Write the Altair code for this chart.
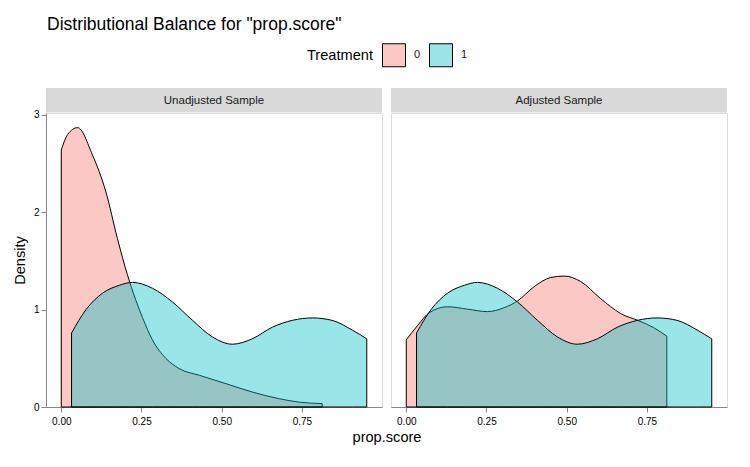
import altair as alt
import pandas as pd

FONT = "Liberation Sans"

# Treatment 0, unadjusted sample (density curve)
t0_unadj_x = [0.0, 0.02, 0.051, 0.097, 0.139, 0.175, 0.206, 0.232, 0.253, 0.284, 0.326, 0.367, 0.43, 0.513, 0.595, 0.678, 0.741, 0.813]
t0_unadj_y = [2.64, 2.80, 2.87, 2.59, 2.21, 1.73, 1.36, 1.10, 0.92, 0.69, 0.50, 0.395, 0.326, 0.24, 0.154, 0.086, 0.05, 0.035]

# Treatment 1 (same in both samples)
t1_x = [0.032, 0.077, 0.129, 0.181, 0.222, 0.284, 0.346, 0.409, 0.471, 0.533, 0.595, 0.658, 0.72, 0.782, 0.844, 0.907, 0.952]
t1_y = [0.76, 1.00, 1.17, 1.25, 1.28, 1.22, 1.08, 0.89, 0.72, 0.645, 0.70, 0.82, 0.89, 0.915, 0.89, 0.79, 0.70]

# Treatment 0, adjusted sample
t0_adj_x = [0.0, 0.036, 0.072, 0.129, 0.191, 0.253, 0.305, 0.347, 0.398, 0.45, 0.492, 0.543, 0.605, 0.668, 0.725, 0.771, 0.812]
t0_adj_y = [0.69, 0.84, 0.97, 1.03, 1.005, 0.98, 1.02, 1.09, 1.235, 1.33, 1.345, 1.29, 1.115, 0.96, 0.885, 0.815, 0.727]

samples = ["Unadjusted Sample", "Adjusted Sample"]
treatments = ["0", "1"]
colors = ["#F8766D", "#00BFC4"]
legend_colors = ["#FCC8C5", "#99E5E7"]  # the same colours at 40% over white
x_ticks = [0.0, 0.25, 0.5, 0.75]
y_ticks = [0, 1, 2, 3]


def frame(xs0, ys0, xs1, ys1):
    rows = [{"x": a, "density": b, "Treatment": "0"} for a, b in zip(xs0, ys0)]
    rows += [{"x": a, "density": b, "Treatment": "1"} for a, b in zip(xs1, ys1)]
    return pd.DataFrame(rows)


W, H = 336, 294

legend = alt.Legend(
    orient="none", legendX=261, legendY=-70, direction="horizontal",
    titleOrient="left", symbolType="square", symbolSize=529,
    symbolStrokeColor="black", symbolStrokeWidth=1, symbolOpacity=1,
    labelFontSize=11, labelColor="#1A1A1A", labelFont=FONT, labelOffset=8,
    titleFontSize=14.6, titleFontWeight="normal", titleColor="black", titleFont=FONT,
    titlePadding=9, columnPadding=6, title="Treatment",
)


def panel(df, label, first):
    if first:
        xaxis = alt.Axis(
            values=x_ticks, format=".2f", title="prop.score", grid=False,
            titleX=W + 4.5, titleAnchor="middle",
            titleFontSize=14.6, titleFontWeight="normal", titleColor="black", titleFont=FONT,
            titlePadding=3, labelPadding=4.5,
        )
        yaxis = alt.Axis(values=y_ticks, title="Density", grid=False, titleFontSize=14.6,
                         titleFontWeight="normal", titleColor="black", titleFont=FONT, titlePadding=6)
    else:
        xaxis = alt.Axis(values=x_ticks, format=".2f", title=None, grid=False, labelPadding=4.5)
        yaxis = None
    area = alt.Chart(df).mark_area(
        stroke="black", strokeWidth=1, fillOpacity=0.4, interpolate="monotone"
    ).encode(
        x=alt.X("x:Q", scale=alt.Scale(domain=[-0.0476, 0.9995], nice=False, zero=False), axis=xaxis),
        y=alt.Y("density:Q", stack=None, scale=alt.Scale(domain=[0, 3.02], nice=False, zero=False), axis=yaxis),
        fill=alt.Fill("Treatment:N", scale=alt.Scale(domain=treatments, range=colors), legend=None),
    )
    # legend keys only: zero-size squares, nothing visible is drawn
    keys = alt.Chart(df).mark_square(filled=True, size=0, opacity=1).encode(
        color=alt.Color("Treatment:N", scale=alt.Scale(range=legend_colors), legend=legend),
    )
    lab = pd.DataFrame({"label": [label]})
    strip = alt.Chart(lab).mark_rect(fill="#D9D9D9").encode(
        x=alt.value(0), x2=alt.value(W), y=alt.value(-25), y2=alt.value(-0.5)
    )
    strip_text = alt.Chart(lab).mark_text(
        font=FONT, fontSize=11.5, color="#1A1A1A", baseline="middle", align="center"
    ).encode(x=alt.value(W / 2), y=alt.value(-12.5), text="label:N")
    return alt.layer(strip, strip_text, area, keys).properties(width=W, height=H)


left = panel(frame(t0_unadj_x, t0_unadj_y, t1_x, t1_y), samples[0], True)
right = panel(frame(t0_adj_x, t0_adj_y, t1_x, t1_y), samples[1], False)

chart = alt.hconcat(left, right, spacing=9, bounds="flush").properties(
    title=alt.TitleParams('Distributional Balance for "prop.score"', anchor="start", frame="group",
                          fontSize=17.5, fontWeight="normal", font=FONT, color="black", offset=10, dx=1),
    padding={"left": 11, "top": 15, "right": 22, "bottom": 20},
).configure_view(
    stroke="#333333", strokeWidth=1
).configure_axis(
    domain=False, grid=False, tickColor="#333333", tickSize=3.5, tickWidth=1,
    labelColor="#4D4D4D", labelFontSize=12, labelFont=FONT, labelPadding=2,
).configure(background="white")

chart.save("out.html", embed_options={"renderer": "svg", "actions": False})
